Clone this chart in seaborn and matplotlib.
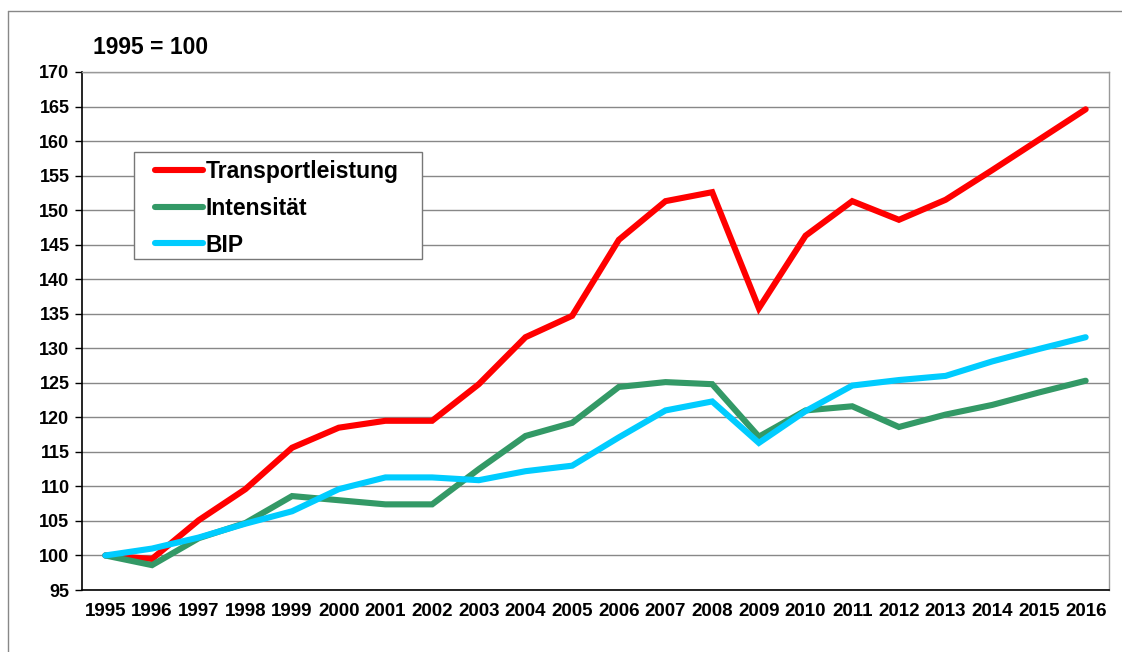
import pandas as pd
import matplotlib.pyplot as plt
import seaborn as sns
from matplotlib.lines import Line2D
from matplotlib.patches import Rectangle
from matplotlib.ticker import MultipleLocator

# data (index 1995 = 100)
years = list(range(1995, 2017))
transportleistung = [100.0, 99.5, 105.1, 109.6, 115.6, 118.5, 119.5, 119.5, 124.8, 131.6, 134.7,
                     145.7, 151.3, 152.6, 135.8, 146.3, 151.3, 148.6, 151.5, 155.8, 160.2, 164.6]
intensitaet = [100.0, 98.6, 102.5, 104.7, 108.6, 108.0, 107.4, 107.4, 112.5, 117.3, 119.2,
               124.4, 125.1, 124.8, 117.2, 121.0, 121.6, 118.6, 120.4, 121.8, 123.6, 125.3]
bip = [100.0, 101.0, 102.6, 104.6, 106.4, 109.6, 111.3, 111.3, 110.9, 112.2, 113.0,
       117.1, 121.0, 122.3, 116.3, 120.9, 124.6, 125.4, 126.0, 128.1, 129.9, 131.6]
series_names = ["Transportleistung", "Intensität", "BIP"]
colors = ["#FF0000", "#339966", "#00CCFF"]

df = pd.DataFrame({"Jahr": years, series_names[0]: transportleistung,
                   series_names[1]: intensitaet, series_names[2]: bip})
df_long = df.melt(id_vars="Jahr", var_name="Reihe", value_name="Wert")

sns.set_style("white")
plt.rcParams['font.family'] = ['Liberation Sans', 'DejaVu Sans']
plt.rcParams['font.weight'] = 'bold'
plt.rcParams['text.color'] = 'black'
plt.rcParams['xtick.color'] = 'black'
plt.rcParams['ytick.color'] = 'black'

W, H = 1122, 652
fig = plt.figure(figsize=(W / 100, H / 100), dpi=100)
x0, x1, y0, y1 = 82, 1109, 72, 590
ax = fig.add_axes([x0 / W, 1 - y1 / H, (x1 - x0) / W, (y1 - y0) / H])


def px_to_axes(px, py):
    return (px - x0) / (x1 - x0), (y1 - py) / (y1 - y0)


sns.lineplot(data=df_long, x="Jahr", y="Wert", hue="Reihe", hue_order=series_names,
             palette=colors, linewidth=4.4, ax=ax, solid_capstyle='round', solid_joinstyle='miter')

# axes and grid
ax.set_xlim(1994.5, 2016.5)
ax.set_ylim(95, 170)
ax.yaxis.set_major_locator(MultipleLocator(5))
ax.set_xticks(years)
ax.set_xticks([y + 0.5 for y in [1994] + years], minor=True)
ax.tick_params(axis='x', which='major', length=0, pad=9, labelsize=13.5)
ax.tick_params(axis='x', which='minor', length=5, width=1, color='#555555', direction='out')
ax.tick_params(axis='y', which='major', length=5, width=1, color='black', direction='out',
               left=True, labelsize=13, pad=4)
ax.grid(axis='y', color='#888888', linewidth=1)
ax.set_axisbelow(True)
ax.set_xlabel("")
ax.set_ylabel("")
for name in ['left', 'bottom']:
    ax.spines[name].set_color('black')
    ax.spines[name].set_linewidth(1.2)
for name in ['top', 'right']:
    ax.spines[name].set_color('#999999')
    ax.spines[name].set_linewidth(1)

# legend box drawn separately, entries without frame
bx0, by0 = px_to_axes(134, 259)
bx1, by1 = px_to_axes(422, 152)
ax.add_patch(Rectangle((bx0, by0), bx1 - bx0, by1 - by0, transform=ax.transAxes,
                       facecolor='white', edgecolor='#777777', linewidth=1, zorder=4))
leg = ax.legend(loc='upper left', bbox_to_anchor=px_to_axes(155, 160),
                borderaxespad=0, borderpad=0, frameon=False, fontsize=16.5,
                handlelength=2.1, handletextpad=0.1, labelspacing=0.6)
leg.set_zorder(5)
for line in leg.get_lines():
    line.set_linewidth(4.4)
    line.set_solid_capstyle('round')

fig.text(93 / W, 1 - 47 / H, "1995 = 100", fontsize=16.5, fontweight='bold', va='center')

# outer chart border
fig.add_artist(Line2D([8 / W, 1], [1 - 11 / H] * 2, color='#888888', lw=1))
fig.add_artist(Line2D([8 / W] * 2, [0, 1 - 11 / H], color='#888888', lw=1))

fig.savefig("out.png", dpi=100)
